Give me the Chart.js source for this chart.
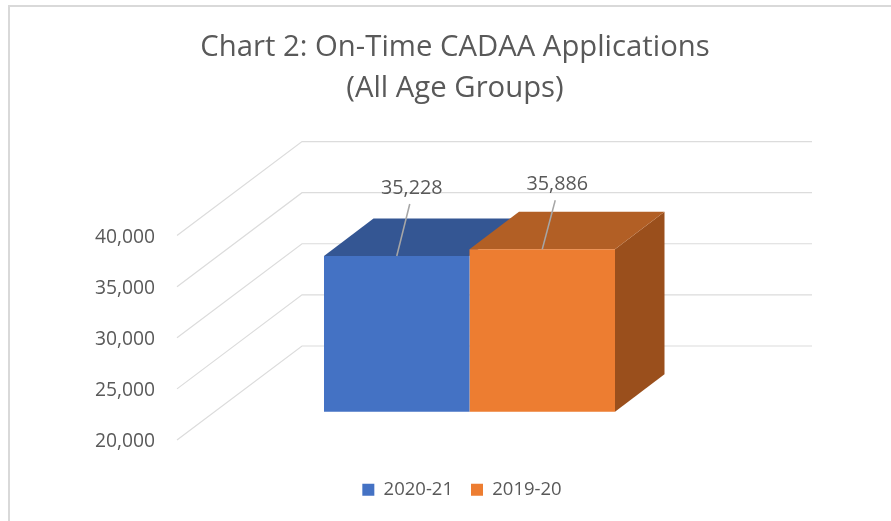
<!DOCTYPE html>
<html>
<head>
<meta charset="utf-8">
<style>
  html, body { margin: 0; padding: 0; background: #fff; overflow: hidden; }
  #frame { position: absolute; left: 8px; top: 5px; width: 1000px; height: 700px; border: 2px solid #d9d9d9; }
  #c { position: absolute; left: 0; top: 0; }
</style>
<script src="https://cdn.jsdelivr.net/npm/chart.js@4/dist/chart.umd.min.js"></script>
</head>
<body>
<div id="frame"></div>
<canvas id="c" width="891" height="521"></canvas>
<script>
const titleLines = ['Chart 2: On-Time CADAA Applications', '(All Age Groups)'];
const categories = ['On-Time CADAA Applications'];
const seriesNames = ['2020-21', '2019-20'];
const values2021 = [35228];
const values1920 = [35886];
const yTicks = [20000, 25000, 30000, 35000, 40000];

const frontColors = ['#4472c4', '#ed7d31'];
const topColors = ['#345693', '#b25f25'];
const sideColor = '#9a4f1c';
const labelLift = [68, 65];
const leaderLift = [52, 49];

const textColor = '#595959';
const fontName = '"Open Sans", sans-serif';

// depth of the back wall and of the bars, and where the bars sit in between
const wallDx = 125, wallDy = -94;
const barDx = 49.5, barDy = -37.5;
const shiftX = 37.5, shiftY = -28.3;

function poly(ctx, pts, color) {
    ctx.fillStyle = color;
    ctx.beginPath();
    pts.forEach((p, i) => i ? ctx.lineTo(p[0], p[1]) : ctx.moveTo(p[0], p[1]));
    ctx.closePath();
    ctx.fill();
}

const fake3d = {
    id: 'fake3d',
    afterLayout(chart) {
        // legend sits a little right of the title in the original
        chart.legend.left += 7;
        chart.legend.right += 7;
    },
    beforeDatasetsDraw(chart) {
        const ctx = chart.ctx;
        const area = chart.chartArea;
        const y = chart.scales.y;
        const last = chart.data.datasets.length - 1;
        ctx.save();
        ctx.strokeStyle = '#dcdcdc';
        ctx.lineWidth = 1.2;
        y.ticks.forEach(t => {
            const py = y.getPixelForValue(t.value);
            ctx.beginPath();
            ctx.moveTo(area.left, py);
            ctx.lineTo(area.left + wallDx, py + wallDy);
            ctx.lineTo(area.right + wallDx, py + wallDy);
            ctx.stroke();
        });
        chart.data.datasets.forEach((ds, i) => {
            const bar = chart.getDatasetMeta(i).data[0];
            const l = bar.x - bar.width / 2 + shiftX;
            const r = bar.x + bar.width / 2 + shiftX;
            const t = bar.y + shiftY;
            const b = bar.base + shiftY;
            // only the last bar shows its side, the others are hidden behind the next one
            if (i === last) {
                poly(ctx, [[r, t], [r + barDx, t + barDy], [r + barDx, b + barDy], [r, b]], sideColor);
            }
            poly(ctx, [[l, t], [r, t], [r + barDx, t + barDy], [l + barDx, t + barDy]], topColors[i]);
        });
        ctx.restore();
        ctx.save();
        ctx.translate(shiftX, shiftY);
    },
    afterDatasetsDraw(chart) {
        const ctx = chart.ctx;
        ctx.restore();
        ctx.save();
        chart.data.datasets.forEach((ds, i) => {
            const bar = chart.getDatasetMeta(i).data[0];
            const x = bar.x + shiftX;
            const t = bar.y + shiftY;
            ctx.strokeStyle = '#a6a6a6';
            ctx.lineWidth = 1.5;
            ctx.beginPath();
            ctx.moveTo(x, t);
            ctx.lineTo(x + 13, t - leaderLift[i]);
            ctx.stroke();
            ctx.fillStyle = textColor;
            ctx.font = '19.8px ' + fontName;
            ctx.textAlign = 'center';
            ctx.textBaseline = 'middle';
            ctx.fillText(ds.data[0].toLocaleString('en-US'), x + 15, t - labelLift[i]);
        });
        ctx.restore();
    }
};

new Chart(document.getElementById('c'), {
    type: 'bar',
    data: {
        labels: categories,
        datasets: [
            { label: seriesNames[0], data: values2021, backgroundColor: frontColors[0], base: yTicks[0], clip: false },
            { label: seriesNames[1], data: values1920, backgroundColor: frontColors[1], base: yTicks[0], clip: false }
        ]
    },
    options: {
        responsive: false,
        animation: false,
        layout: { padding: { left: 19, top: 0, right: 0, bottom: 12 } },
        categoryPercentage: 0.5706,
        barPercentage: 1,
        scales: {
            x: {
                ticks: { display: false },
                grid: { display: false },
                border: { display: false },
                afterFit: s => { s.height = 22.5; }
            },
            y: {
                min: yTicks[0],
                max: yTicks[yTicks.length - 1],
                afterBuildTicks: s => { s.ticks = yTicks.map(v => ({ value: v })); },
                afterFit: s => { s.width = 158; },
                grid: { display: false, drawTicks: false },
                border: { display: false },
                ticks: {
                    padding: 22,
                    labelOffset: 2,
                    color: textColor,
                    font: { family: fontName, size: 19.3 },
                    callback: v => v.toLocaleString('en-US')
                }
            },
            // empty axis only keeps the space right of the plot
            right: {
                position: 'right',
                ticks: { display: false },
                grid: { display: false },
                border: { display: false },
                afterFit: s => { s.width = 204; }
            }
        },
        plugins: {
            title: {
                display: true,
                text: titleLines,
                color: textColor,
                font: { family: fontName, size: 29.3, weight: 'normal', lineHeight: 1.4 },
                padding: { top: 27.5, bottom: 126 }
            },
            legend: {
                position: 'bottom',
                labels: {
                    color: textColor,
                    font: { family: fontName, size: 18.5 },
                    boxWidth: 12,
                    boxHeight: 12,
                    padding: 18
                }
            },
            tooltip: { enabled: false }
        }
    },
    plugins: [fake3d]
});
</script>
</body>
</html>
